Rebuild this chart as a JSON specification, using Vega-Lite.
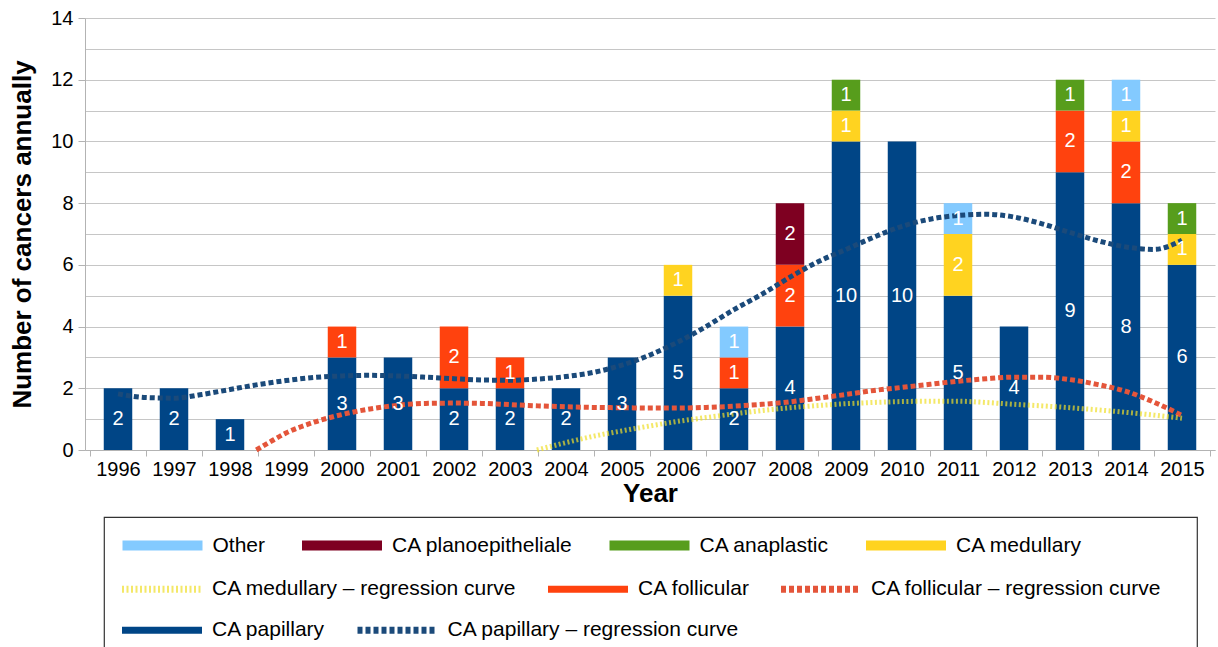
{
  "$schema": "https://vega.github.io/schema/vega-lite/v6.json",
  "width": 1130,
  "height": 432,
  "autosize": {"type": "none"},
  "padding": {"left": 85, "top": 18, "right": 3, "bottom": 197},
  "background": "white",
  "config": {
    "font": "Liberation Sans",
    "view": {"stroke": null},
    "legend": {
      "orient": "none", "direction": "horizontal", "strokeWidth": 1.2,
      "symbolSize": 400, "symbolStrokeWidth": 5, "symbolOffset": 30,
      "labelFontSize": 21, "labelColor": "#000", "labelOffset": 37.5, "labelLimit": 600, "symbolLimit": 0
    }
  },
  "resolve": {"scale": {"strokeDash": "independent", "stroke": "independent"}},
  "datasets": {
    "counts": [
      {"year": 1996, "type": "CA papillary", "value": 2, "rank": 1},
      {"year": 1997, "type": "CA papillary", "value": 2, "rank": 1},
      {"year": 1998, "type": "CA papillary", "value": 1, "rank": 1},
      {"year": 2000, "type": "CA papillary", "value": 3, "rank": 1},
      {"year": 2000, "type": "CA follicular", "value": 1, "rank": 2},
      {"year": 2001, "type": "CA papillary", "value": 3, "rank": 1},
      {"year": 2002, "type": "CA papillary", "value": 2, "rank": 1},
      {"year": 2002, "type": "CA follicular", "value": 2, "rank": 2},
      {"year": 2003, "type": "CA papillary", "value": 2, "rank": 1},
      {"year": 2003, "type": "CA follicular", "value": 1, "rank": 2},
      {"year": 2004, "type": "CA papillary", "value": 2, "rank": 1},
      {"year": 2005, "type": "CA papillary", "value": 3, "rank": 1},
      {"year": 2006, "type": "CA papillary", "value": 5, "rank": 1},
      {"year": 2006, "type": "CA medullary", "value": 1, "rank": 3},
      {"year": 2007, "type": "CA papillary", "value": 2, "rank": 1},
      {"year": 2007, "type": "CA follicular", "value": 1, "rank": 2},
      {"year": 2007, "type": "Other", "value": 1, "rank": 6},
      {"year": 2008, "type": "CA papillary", "value": 4, "rank": 1},
      {"year": 2008, "type": "CA follicular", "value": 2, "rank": 2},
      {"year": 2008, "type": "CA planoepitheliale", "value": 2, "rank": 5},
      {"year": 2009, "type": "CA papillary", "value": 10, "rank": 1},
      {"year": 2009, "type": "CA medullary", "value": 1, "rank": 3},
      {"year": 2009, "type": "CA anaplastic", "value": 1, "rank": 4},
      {"year": 2010, "type": "CA papillary", "value": 10, "rank": 1},
      {"year": 2011, "type": "CA papillary", "value": 5, "rank": 1},
      {"year": 2011, "type": "CA medullary", "value": 2, "rank": 3},
      {"year": 2011, "type": "Other", "value": 1, "rank": 6},
      {"year": 2012, "type": "CA papillary", "value": 4, "rank": 1},
      {"year": 2013, "type": "CA papillary", "value": 9, "rank": 1},
      {"year": 2013, "type": "CA follicular", "value": 2, "rank": 2},
      {"year": 2013, "type": "CA anaplastic", "value": 1, "rank": 4},
      {"year": 2014, "type": "CA papillary", "value": 8, "rank": 1},
      {"year": 2014, "type": "CA follicular", "value": 2, "rank": 2},
      {"year": 2014, "type": "CA medullary", "value": 1, "rank": 3},
      {"year": 2014, "type": "Other", "value": 1, "rank": 6},
      {"year": 2015, "type": "CA papillary", "value": 6, "rank": 1},
      {"year": 2015, "type": "CA medullary", "value": 1, "rank": 3},
      {"year": 2015, "type": "CA anaplastic", "value": 1, "rank": 4}
    ],
    "curves": [
      {"year": 1996, "type": "CA papillary – regression curve", "value": 1.82},
      {"year": 1996.5, "type": "CA papillary – regression curve", "value": 1.7},
      {"year": 1997, "type": "CA papillary – regression curve", "value": 1.68},
      {"year": 1997.5, "type": "CA papillary – regression curve", "value": 1.8},
      {"year": 1998, "type": "CA papillary – regression curve", "value": 1.96},
      {"year": 1998.5, "type": "CA papillary – regression curve", "value": 2.12},
      {"year": 1999, "type": "CA papillary – regression curve", "value": 2.25},
      {"year": 1999.5, "type": "CA papillary – regression curve", "value": 2.35},
      {"year": 2000, "type": "CA papillary – regression curve", "value": 2.4},
      {"year": 2000.5, "type": "CA papillary – regression curve", "value": 2.42},
      {"year": 2001, "type": "CA papillary – regression curve", "value": 2.4},
      {"year": 2001.5, "type": "CA papillary – regression curve", "value": 2.36},
      {"year": 2002, "type": "CA papillary – regression curve", "value": 2.31},
      {"year": 2002.5, "type": "CA papillary – regression curve", "value": 2.27},
      {"year": 2003, "type": "CA papillary – regression curve", "value": 2.26},
      {"year": 2003.5, "type": "CA papillary – regression curve", "value": 2.3},
      {"year": 2004, "type": "CA papillary – regression curve", "value": 2.38},
      {"year": 2004.5, "type": "CA papillary – regression curve", "value": 2.52},
      {"year": 2005, "type": "CA papillary – regression curve", "value": 2.75},
      {"year": 2005.5, "type": "CA papillary – regression curve", "value": 3.08},
      {"year": 2006, "type": "CA papillary – regression curve", "value": 3.5},
      {"year": 2006.5, "type": "CA papillary – regression curve", "value": 4.0},
      {"year": 2007, "type": "CA papillary – regression curve", "value": 4.55},
      {"year": 2007.5, "type": "CA papillary – regression curve", "value": 5.05},
      {"year": 2008, "type": "CA papillary – regression curve", "value": 5.6},
      {"year": 2008.5, "type": "CA papillary – regression curve", "value": 6.1},
      {"year": 2009, "type": "CA papillary – regression curve", "value": 6.5},
      {"year": 2009.5, "type": "CA papillary – regression curve", "value": 6.9},
      {"year": 2010, "type": "CA papillary – regression curve", "value": 7.25},
      {"year": 2010.5, "type": "CA papillary – regression curve", "value": 7.48},
      {"year": 2011, "type": "CA papillary – regression curve", "value": 7.6},
      {"year": 2011.5, "type": "CA papillary – regression curve", "value": 7.64},
      {"year": 2012, "type": "CA papillary – regression curve", "value": 7.55},
      {"year": 2012.5, "type": "CA papillary – regression curve", "value": 7.33},
      {"year": 2013, "type": "CA papillary – regression curve", "value": 7.05},
      {"year": 2013.5, "type": "CA papillary – regression curve", "value": 6.78},
      {"year": 2014, "type": "CA papillary – regression curve", "value": 6.58},
      {"year": 2014.5, "type": "CA papillary – regression curve", "value": 6.5},
      {"year": 2015, "type": "CA papillary – regression curve", "value": 6.8},
      {"year": 1998.47, "type": "CA follicular – regression curve", "value": 0},
      {"year": 1998.75, "type": "CA follicular – regression curve", "value": 0.3},
      {"year": 1999, "type": "CA follicular – regression curve", "value": 0.55},
      {"year": 1999.5, "type": "CA follicular – regression curve", "value": 0.9},
      {"year": 2000, "type": "CA follicular – regression curve", "value": 1.15},
      {"year": 2000.5, "type": "CA follicular – regression curve", "value": 1.33},
      {"year": 2001, "type": "CA follicular – regression curve", "value": 1.45},
      {"year": 2001.5, "type": "CA follicular – regression curve", "value": 1.51},
      {"year": 2002, "type": "CA follicular – regression curve", "value": 1.52},
      {"year": 2002.5, "type": "CA follicular – regression curve", "value": 1.51},
      {"year": 2003, "type": "CA follicular – regression curve", "value": 1.47},
      {"year": 2003.5, "type": "CA follicular – regression curve", "value": 1.43},
      {"year": 2004, "type": "CA follicular – regression curve", "value": 1.4},
      {"year": 2004.5, "type": "CA follicular – regression curve", "value": 1.38},
      {"year": 2005, "type": "CA follicular – regression curve", "value": 1.37},
      {"year": 2005.5, "type": "CA follicular – regression curve", "value": 1.36},
      {"year": 2006, "type": "CA follicular – regression curve", "value": 1.36},
      {"year": 2006.5, "type": "CA follicular – regression curve", "value": 1.38},
      {"year": 2007, "type": "CA follicular – regression curve", "value": 1.42},
      {"year": 2007.5, "type": "CA follicular – regression curve", "value": 1.48},
      {"year": 2008, "type": "CA follicular – regression curve", "value": 1.56},
      {"year": 2008.5, "type": "CA follicular – regression curve", "value": 1.68},
      {"year": 2009, "type": "CA follicular – regression curve", "value": 1.8},
      {"year": 2009.5, "type": "CA follicular – regression curve", "value": 1.93},
      {"year": 2010, "type": "CA follicular – regression curve", "value": 2.03},
      {"year": 2010.5, "type": "CA follicular – regression curve", "value": 2.13},
      {"year": 2011, "type": "CA follicular – regression curve", "value": 2.23},
      {"year": 2011.5, "type": "CA follicular – regression curve", "value": 2.31},
      {"year": 2012, "type": "CA follicular – regression curve", "value": 2.36},
      {"year": 2012.5, "type": "CA follicular – regression curve", "value": 2.36},
      {"year": 2013, "type": "CA follicular – regression curve", "value": 2.28},
      {"year": 2013.5, "type": "CA follicular – regression curve", "value": 2.12},
      {"year": 2014, "type": "CA follicular – regression curve", "value": 1.9},
      {"year": 2014.5, "type": "CA follicular – regression curve", "value": 1.55},
      {"year": 2015, "type": "CA follicular – regression curve", "value": 1.12},
      {"year": 2003.48, "type": "CA medullary – regression curve", "value": 0},
      {"year": 2004, "type": "CA medullary – regression curve", "value": 0.24},
      {"year": 2004.5, "type": "CA medullary – regression curve", "value": 0.45},
      {"year": 2005, "type": "CA medullary – regression curve", "value": 0.62},
      {"year": 2005.5, "type": "CA medullary – regression curve", "value": 0.78},
      {"year": 2006, "type": "CA medullary – regression curve", "value": 0.93},
      {"year": 2006.5, "type": "CA medullary – regression curve", "value": 1.05},
      {"year": 2007, "type": "CA medullary – regression curve", "value": 1.17},
      {"year": 2007.5, "type": "CA medullary – regression curve", "value": 1.28},
      {"year": 2008, "type": "CA medullary – regression curve", "value": 1.37},
      {"year": 2008.5, "type": "CA medullary – regression curve", "value": 1.44},
      {"year": 2009, "type": "CA medullary – regression curve", "value": 1.5},
      {"year": 2009.5, "type": "CA medullary – regression curve", "value": 1.54},
      {"year": 2010, "type": "CA medullary – regression curve", "value": 1.57},
      {"year": 2010.5, "type": "CA medullary – regression curve", "value": 1.58},
      {"year": 2011, "type": "CA medullary – regression curve", "value": 1.58},
      {"year": 2011.5, "type": "CA medullary – regression curve", "value": 1.54},
      {"year": 2012, "type": "CA medullary – regression curve", "value": 1.48},
      {"year": 2012.5, "type": "CA medullary – regression curve", "value": 1.43},
      {"year": 2013, "type": "CA medullary – regression curve", "value": 1.37},
      {"year": 2013.5, "type": "CA medullary – regression curve", "value": 1.3},
      {"year": 2014, "type": "CA medullary – regression curve", "value": 1.22},
      {"year": 2014.5, "type": "CA medullary – regression curve", "value": 1.13},
      {"year": 2015, "type": "CA medullary – regression curve", "value": 1.03}
    ]
  },
  "layer": [
    {
      "data": {"name": "counts"},
      "mark": {"type": "bar", "width": 28.5},
      "encoding": {
        "x": {
          "field": "year", "type": "quantitative",
          "scale": {"domain": [1995.5, 2015.5], "nice": false, "zero": false},
          "axis": {
            "title": "Year",
            "values": [1995.5, 1996, 1996.5, 1997, 1997.5, 1998, 1998.5, 1999, 1999.5, 2000, 2000.5, 2001, 2001.5, 2002, 2002.5, 2003, 2003.5, 2004, 2004.5, 2005, 2005.5, 2006, 2006.5, 2007, 2007.5, 2008, 2008.5, 2009, 2009.5, 2010, 2010.5, 2011, 2011.5, 2012, 2012.5, 2013, 2013.5, 2014, 2014.5, 2015, 2015.5],
            "labelExpr": "floor(datum.value) === datum.value ? ('' + datum.value) : ''",
            "tickColor": {"condition": {"test": "floor(datum.value) !== datum.value", "value": "#b3b3b3"}, "value": "rgba(0,0,0,0)"},
            "grid": false, "tickSize": 6, "labelPadding": 3, "labelFontSize": 20, "labelColor": "#000",
            "labelFlush": false, "labelOverlap": false, "labelBound": false,
            "domainColor": "#b3b3b3", "titleFontSize": 26, "titleFontWeight": "bold", "titlePadding": 1, "titleColor": "#000"
          }
        },
        "y": {
          "field": "value", "type": "quantitative", "stack": "zero",
          "scale": {"domain": [0, 14], "nice": false},
          "axis": {
            "title": "Number of cancers annually",
            "values": [0, 1, 2, 3, 4, 5, 6, 7, 8, 9, 10, 11, 12, 13, 14],
            "labelExpr": "datum.value % 2 === 0 ? datum.label : ''",
            "tickColor": {"condition": {"test": "datum.value % 2 === 0", "value": "#b3b3b3"}, "value": "rgba(0,0,0,0)"},
            "grid": true, "gridColor": "#c6c6c6", "tickSize": 7, "labelPadding": 5, "labelFontSize": 20, "labelColor": "#000",
            "labelOverlap": false, "domainColor": "#b3b3b3",
            "titleFontSize": 26, "titleFontWeight": "bold", "titlePadding": 15, "titleColor": "#000"
          }
        },
        "color": {
          "field": "type", "type": "nominal",
          "scale": {
            "domain": ["Other", "CA planoepitheliale", "CA anaplastic", "CA medullary", "CA medullary – regression curve", "CA follicular", "CA follicular – regression curve", "CA papillary", "CA papillary – regression curve"],
            "range": ["#83caff", "#7e0021", "#579d1c", "#ffd320", "rgba(240,222,40,0.7)", "#ff420e", "#e4553a", "#004586", "#1b4a7a"]
          },
          "legend": {
            "values": ["Other", "CA planoepitheliale", "CA anaplastic", "CA medullary"],
            "title": [" ", " ", " ", " ", " "], "titleOrient": "right", "titlePadding": 99,
            "titleFontSize": 21, "titleLineHeight": 28, "titleBaseline": "top", "titleAnchor": "start",
            "legendX": 19, "legendY": 499, "padding": 16, "columnPadding": 28.5,
            "strokeColor": "#333",
            "encode": {
              "symbols": {
                "update": {
                  "shape": {"value": "M-3.75,-0.25H3.75V0.25H-3.75Z"},
                  "stroke": {"signal": "scale('color', datum.value)"},
                  "strokeWidth": {"value": 5},
                  "strokeCap": {"value": "butt"},
                  "strokeJoin": {"value": "miter"},
                  "opacity": {"value": 1}
                }
              }
            }
          }
        },
        "order": {"field": "rank", "type": "quantitative", "sort": "ascending"}
      }
    },
    {
      "data": {"name": "curves"},
      "mark": {"type": "line", "strokeWidth": 5, "interpolate": "monotone", "strokeCap": "butt"},
      "encoding": {
        "x": {
          "field": "year", "type": "quantitative",
          "scale": {"domain": [1995.5, 2015.5], "nice": false, "zero": false},
          "axis": {
            "title": "Year",
            "values": [1995.5, 1996, 1996.5, 1997, 1997.5, 1998, 1998.5, 1999, 1999.5, 2000, 2000.5, 2001, 2001.5, 2002, 2002.5, 2003, 2003.5, 2004, 2004.5, 2005, 2005.5, 2006, 2006.5, 2007, 2007.5, 2008, 2008.5, 2009, 2009.5, 2010, 2010.5, 2011, 2011.5, 2012, 2012.5, 2013, 2013.5, 2014, 2014.5, 2015, 2015.5],
            "labelExpr": "floor(datum.value) === datum.value ? ('' + datum.value) : ''",
            "tickColor": {"condition": {"test": "floor(datum.value) !== datum.value", "value": "#b3b3b3"}, "value": "rgba(0,0,0,0)"},
            "grid": false, "tickSize": 6, "labelPadding": 3, "labelFontSize": 20, "labelColor": "#000",
            "labelFlush": false, "labelOverlap": false, "labelBound": false,
            "domainColor": "#b3b3b3", "titleFontSize": 26, "titleFontWeight": "bold", "titlePadding": 1, "titleColor": "#000"
          }
        },
        "y": {
          "field": "value", "type": "quantitative",
          "scale": {"domain": [0, 14], "nice": false},
          "axis": {
            "title": "Number of cancers annually",
            "values": [0, 1, 2, 3, 4, 5, 6, 7, 8, 9, 10, 11, 12, 13, 14],
            "labelExpr": "datum.value % 2 === 0 ? datum.label : ''",
            "tickColor": {"condition": {"test": "datum.value % 2 === 0", "value": "#b3b3b3"}, "value": "rgba(0,0,0,0)"},
            "grid": true, "gridColor": "#c6c6c6", "tickSize": 7, "labelPadding": 5, "labelFontSize": 20, "labelColor": "#000",
            "labelOverlap": false, "domainColor": "#b3b3b3",
            "titleFontSize": 26, "titleFontWeight": "bold", "titlePadding": 15, "titleColor": "#000"
          }
        },
        "color": {
          "field": "type", "type": "nominal",
          "scale": {
            "domain": ["Other", "CA planoepitheliale", "CA anaplastic", "CA medullary", "CA medullary – regression curve", "CA follicular", "CA follicular – regression curve", "CA papillary", "CA papillary – regression curve"],
            "range": ["#83caff", "#7e0021", "#579d1c", "#ffd320", "rgba(240,222,40,0.7)", "#ff420e", "#e4553a", "#004586", "#1b4a7a"]
          }
        },
        "strokeDash": {
          "field": "type", "type": "nominal",
          "scale": {
            "domain": ["CA papillary – regression curve", "CA follicular – regression curve", "CA medullary – regression curve"],
            "range": [[5, 3], [5, 3], [2, 2.5]]
          },
          "legend": null
        }
      }
    },
    {
      "data": {"name": "curves"},
      "mark": {"type": "line", "opacity": 0, "strokeWidth": 7},
      "encoding": {
        "x": {
          "field": "year", "type": "quantitative",
          "scale": {"domain": [1995.5, 2015.5], "nice": false, "zero": false},
          "axis": {
            "title": "Year",
            "values": [1995.5, 1996, 1996.5, 1997, 1997.5, 1998, 1998.5, 1999, 1999.5, 2000, 2000.5, 2001, 2001.5, 2002, 2002.5, 2003, 2003.5, 2004, 2004.5, 2005, 2005.5, 2006, 2006.5, 2007, 2007.5, 2008, 2008.5, 2009, 2009.5, 2010, 2010.5, 2011, 2011.5, 2012, 2012.5, 2013, 2013.5, 2014, 2014.5, 2015, 2015.5],
            "labelExpr": "floor(datum.value) === datum.value ? ('' + datum.value) : ''",
            "tickColor": {"condition": {"test": "floor(datum.value) !== datum.value", "value": "#b3b3b3"}, "value": "rgba(0,0,0,0)"},
            "grid": false, "tickSize": 6, "labelPadding": 3, "labelFontSize": 20, "labelColor": "#000",
            "labelFlush": false, "labelOverlap": false, "labelBound": false,
            "domainColor": "#b3b3b3", "titleFontSize": 26, "titleFontWeight": "bold", "titlePadding": 1, "titleColor": "#000"
          }
        },
        "y": {
          "field": "value", "type": "quantitative",
          "scale": {"domain": [0, 14], "nice": false},
          "axis": {
            "title": "Number of cancers annually",
            "values": [0, 1, 2, 3, 4, 5, 6, 7, 8, 9, 10, 11, 12, 13, 14],
            "labelExpr": "datum.value % 2 === 0 ? datum.label : ''",
            "tickColor": {"condition": {"test": "datum.value % 2 === 0", "value": "#b3b3b3"}, "value": "rgba(0,0,0,0)"},
            "grid": true, "gridColor": "#c6c6c6", "tickSize": 7, "labelPadding": 5, "labelFontSize": 20, "labelColor": "#000",
            "labelOverlap": false, "domainColor": "#b3b3b3",
            "titleFontSize": 26, "titleFontWeight": "bold", "titlePadding": 15, "titleColor": "#000"
          }
        },
        "stroke": {
          "field": "type", "type": "nominal",
          "scale": {
            "domain": ["CA medullary – regression curve", "CA follicular", "CA follicular – regression curve"],
            "range": ["rgba(240,222,40,0.7)", "#ff420e", "#e4553a"]
          },
          "legend": {
            "title": null, "legendX": 33.5, "legendY": 527.5, "padding": 0, "columnPadding": 16,
            "symbolType": "stroke", "symbolSize": 6400, "symbolStrokeWidth": 7, "symbolOffset": 0, "labelOffset": 6.5, "symbolOpacity": 1
          }
        },
        "strokeDash": {
          "field": "type", "type": "nominal",
          "scale": {
            "domain": ["CA medullary – regression curve", "CA follicular", "CA follicular – regression curve"],
            "range": [[2, 2.5], [1, 0], [5, 3]]
          },
          "legend": {
            "title": null, "legendX": 33.5, "legendY": 527.5, "padding": 0, "columnPadding": 16,
            "symbolType": "stroke", "symbolSize": 6400, "symbolStrokeWidth": 7, "symbolOffset": 0, "labelOffset": 6.5, "symbolOpacity": 1
          }
        }
      }
    },
    {
      "data": {"name": "curves"},
      "mark": {"type": "line", "opacity": 0, "strokeWidth": 7},
      "encoding": {
        "x": {
          "field": "year", "type": "quantitative",
          "scale": {"domain": [1995.5, 2015.5], "nice": false, "zero": false},
          "axis": {
            "title": "Year",
            "values": [1995.5, 1996, 1996.5, 1997, 1997.5, 1998, 1998.5, 1999, 1999.5, 2000, 2000.5, 2001, 2001.5, 2002, 2002.5, 2003, 2003.5, 2004, 2004.5, 2005, 2005.5, 2006, 2006.5, 2007, 2007.5, 2008, 2008.5, 2009, 2009.5, 2010, 2010.5, 2011, 2011.5, 2012, 2012.5, 2013, 2013.5, 2014, 2014.5, 2015, 2015.5],
            "labelExpr": "floor(datum.value) === datum.value ? ('' + datum.value) : ''",
            "tickColor": {"condition": {"test": "floor(datum.value) !== datum.value", "value": "#b3b3b3"}, "value": "rgba(0,0,0,0)"},
            "grid": false, "tickSize": 6, "labelPadding": 3, "labelFontSize": 20, "labelColor": "#000",
            "labelFlush": false, "labelOverlap": false, "labelBound": false,
            "domainColor": "#b3b3b3", "titleFontSize": 26, "titleFontWeight": "bold", "titlePadding": 1, "titleColor": "#000"
          }
        },
        "y": {
          "field": "value", "type": "quantitative",
          "scale": {"domain": [0, 14], "nice": false},
          "axis": {
            "title": "Number of cancers annually",
            "values": [0, 1, 2, 3, 4, 5, 6, 7, 8, 9, 10, 11, 12, 13, 14],
            "labelExpr": "datum.value % 2 === 0 ? datum.label : ''",
            "tickColor": {"condition": {"test": "datum.value % 2 === 0", "value": "#b3b3b3"}, "value": "rgba(0,0,0,0)"},
            "grid": true, "gridColor": "#c6c6c6", "tickSize": 7, "labelPadding": 5, "labelFontSize": 20, "labelColor": "#000",
            "labelOverlap": false, "domainColor": "#b3b3b3",
            "titleFontSize": 26, "titleFontWeight": "bold", "titlePadding": 15, "titleColor": "#000"
          }
        },
        "stroke": {
          "field": "type", "type": "nominal",
          "scale": {
            "domain": ["CA papillary", "CA papillary – regression curve"],
            "range": ["#004586", "#1b4a7a"]
          },
          "legend": {
            "title": null, "legendX": 33.5, "legendY": 568.5, "padding": 0, "columnPadding": 17.5,
            "symbolType": "stroke", "symbolSize": 6400, "symbolStrokeWidth": 7, "symbolOffset": 0, "labelOffset": 6.5, "symbolOpacity": 1
          }
        },
        "strokeDash": {
          "field": "type", "type": "nominal",
          "scale": {
            "domain": ["CA papillary", "CA papillary – regression curve"],
            "range": [[1, 0], [5, 3]]
          },
          "legend": {
            "title": null, "legendX": 33.5, "legendY": 568.5, "padding": 0, "columnPadding": 17.5,
            "symbolType": "stroke", "symbolSize": 6400, "symbolStrokeWidth": 7, "symbolOffset": 0, "labelOffset": 6.5, "symbolOpacity": 1
          }
        }
      }
    },
    {
      "data": {"name": "counts"},
      "mark": {"type": "text", "color": "white", "fontSize": 20, "baseline": "middle", "align": "center"},
      "encoding": {
        "x": {
          "field": "year", "type": "quantitative",
          "scale": {"domain": [1995.5, 2015.5], "nice": false, "zero": false},
          "axis": {
            "title": "Year",
            "values": [1995.5, 1996, 1996.5, 1997, 1997.5, 1998, 1998.5, 1999, 1999.5, 2000, 2000.5, 2001, 2001.5, 2002, 2002.5, 2003, 2003.5, 2004, 2004.5, 2005, 2005.5, 2006, 2006.5, 2007, 2007.5, 2008, 2008.5, 2009, 2009.5, 2010, 2010.5, 2011, 2011.5, 2012, 2012.5, 2013, 2013.5, 2014, 2014.5, 2015, 2015.5],
            "labelExpr": "floor(datum.value) === datum.value ? ('' + datum.value) : ''",
            "tickColor": {"condition": {"test": "floor(datum.value) !== datum.value", "value": "#b3b3b3"}, "value": "rgba(0,0,0,0)"},
            "grid": false, "tickSize": 6, "labelPadding": 3, "labelFontSize": 20, "labelColor": "#000",
            "labelFlush": false, "labelOverlap": false, "labelBound": false,
            "domainColor": "#b3b3b3", "titleFontSize": 26, "titleFontWeight": "bold", "titlePadding": 1, "titleColor": "#000"
          }
        },
        "y": {
          "field": "value", "type": "quantitative", "stack": "zero", "bandPosition": 0.5,
          "scale": {"domain": [0, 14], "nice": false},
          "axis": {
            "title": "Number of cancers annually",
            "values": [0, 1, 2, 3, 4, 5, 6, 7, 8, 9, 10, 11, 12, 13, 14],
            "labelExpr": "datum.value % 2 === 0 ? datum.label : ''",
            "tickColor": {"condition": {"test": "datum.value % 2 === 0", "value": "#b3b3b3"}, "value": "rgba(0,0,0,0)"},
            "grid": true, "gridColor": "#c6c6c6", "tickSize": 7, "labelPadding": 5, "labelFontSize": 20, "labelColor": "#000",
            "labelOverlap": false, "domainColor": "#b3b3b3",
            "titleFontSize": 26, "titleFontWeight": "bold", "titlePadding": 15, "titleColor": "#000"
          }
        },
        "detail": {"field": "type", "type": "nominal"},
        "order": {"field": "rank", "type": "quantitative", "sort": "ascending"},
        "text": {"field": "value", "type": "quantitative"}
      }
    }
  ]
}
